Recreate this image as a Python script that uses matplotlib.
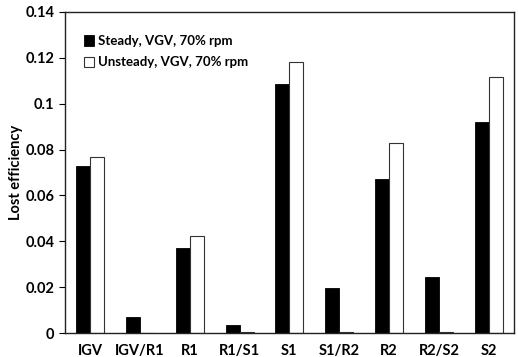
import numpy as np
import matplotlib.pyplot as plt

plt.rcParams['font.family'] = ['Lato', 'DejaVu Sans']
plt.rcParams['font.weight'] = 'bold'

stations = ['IGV', 'IGV/R1', 'R1', 'R1/S1', 'S1', 'S1/R2', 'R2', 'R2/S2', 'S2']
steady = [0.0728, 0.0070, 0.0371, 0.0035, 0.1086, 0.0196, 0.0672, 0.0244, 0.0920]
unsteady = [0.0768, 0.0000, 0.0423, 0.0005, 0.1180, 0.0006, 0.0829, 0.0006, 0.1116]

fig = plt.figure(figsize=(5.18, 3.57), dpi=100)
ax = fig.add_axes([0.1255, 0.0672, 0.8665, 0.8992])

x = np.arange(len(stations))
w = 0.28
ax.bar(x - w / 2, steady, w, color='black', edgecolor='black', linewidth=0.6,
       label='Steady, VGV, 70% rpm')
ax.bar(x + w / 2, unsteady, w, color='white', edgecolor='#333333', linewidth=0.8,
       label='Unsteady, VGV, 70% rpm')

ax.set_xlim(-0.5, len(stations) - 0.5)
ax.set_ylim(0, 0.14)
ax.set_yticks(np.arange(0, 0.141, 0.02))
ax.set_yticklabels(['0', '0.02', '0.04', '0.06', '0.08', '0.1', '0.12', '0.14'])
ax.set_xticks(x)
ax.set_xticklabels(stations)
ax.tick_params(axis='x', length=0, pad=8, labelsize=10.5)
ax.tick_params(axis='y', direction='out', length=4, labelsize=10.5)
for s in ax.spines.values():
    s.set_color('#222222')
    s.set_linewidth(1.0)

ax.set_ylabel('Lost efficiency', fontsize=10.5, fontweight='bold', labelpad=2)
ax.legend(loc='upper left', frameon=False, fontsize=9.5, handlelength=0.8,
          handleheight=0.8, handletextpad=0.3, labelspacing=0.7,
          bbox_to_anchor=(0.015, 0.965))

fig.savefig('out.png', dpi=100)
